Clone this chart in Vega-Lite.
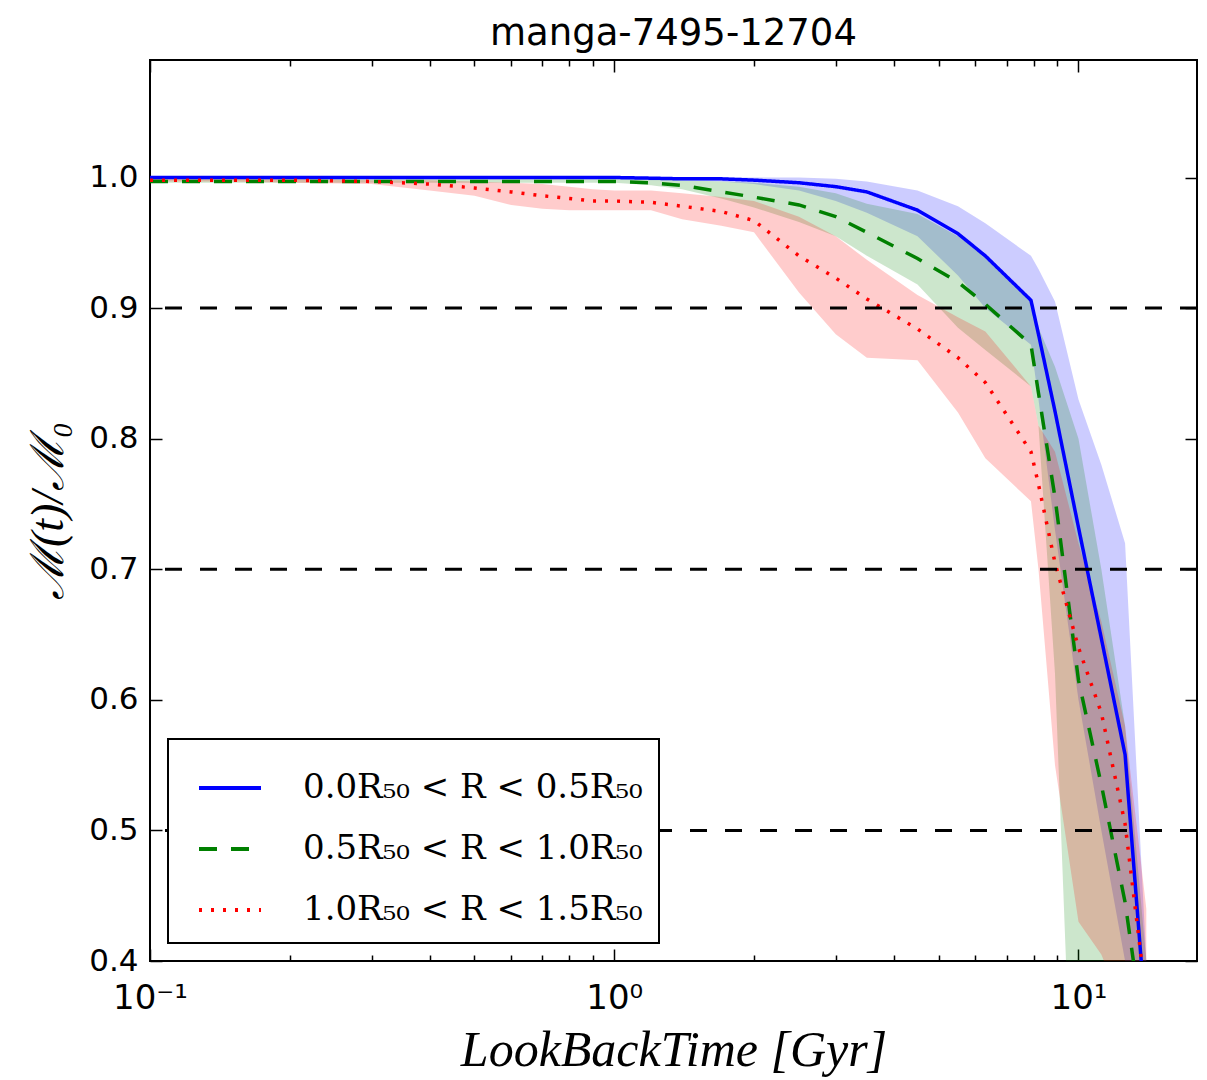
{
  "$schema": "https://vega.github.io/schema/vega-lite/v6.json",
  "width": 1047,
  "height": 901,
  "autosize": {"type": "none"},
  "padding": {"left": 150, "top": 60, "right": 10, "bottom": 119},
  "title": {"text": "manga-7495-12704", "font": "DejaVu Sans", "fontSize": 37, "fontWeight": "normal", "color": "black", "offset": 6},
  "config": {
    "view": {"stroke": "black", "strokeWidth": 2},
    "axis": {"domain": false, "grid": false, "tickColor": "black", "tickWidth": 1.5, "labelColor": "black", "titleColor": "black", "labelFont": "DejaVu Sans", "titleFontWeight": "normal"},
    "legend": {
      "orient": "bottom-left",
      "offset": 18,
      "fillColor": "white",
      "strokeColor": "black",
      "strokeWidth": 2,
      "padding": 16,
      "cornerRadius": 0,
      "symbolType": "stroke",
      "symbolSize": 3844,
      "symbolStrokeWidth": 4,
      "symbolOffset": 13,
      "labelFont": "DejaVu Serif",
      "labelFontSize": 34,
      "labelColor": "black",
      "labelOffset": 40,
      "labelLimit": 700,
      "rowPadding": 11
    }
  },
  "datasets": {
    "curves": [
      {"t":0.1,"r":"a","m":1,"lo":0.999,"hi":1},
      {"t":0.15,"r":"a","m":1,"lo":0.999,"hi":1},
      {"t":0.2,"r":"a","m":1,"lo":0.999,"hi":1},
      {"t":0.3,"r":"a","m":1,"lo":0.999,"hi":1},
      {"t":0.4,"r":"a","m":1,"lo":0.999,"hi":1},
      {"t":0.5,"r":"a","m":1,"lo":0.999,"hi":1},
      {"t":0.6,"r":"a","m":1,"lo":0.999,"hi":1},
      {"t":0.7,"r":"a","m":1,"lo":0.999,"hi":1},
      {"t":0.8,"r":"a","m":1,"lo":0.999,"hi":1},
      {"t":0.9,"r":"a","m":1,"lo":0.999,"hi":1},
      {"t":1.0,"r":"a","m":1,"lo":0.999,"hi":1},
      {"t":1.2,"r":"a","m":0.9995,"lo":0.998,"hi":1},
      {"t":1.4,"r":"a","m":0.999,"lo":0.998,"hi":1},
      {"t":1.7,"r":"a","m":0.999,"lo":0.997,"hi":1},
      {"t":2.0,"r":"a","m":0.998,"lo":0.995,"hi":1},
      {"t":2.5,"r":"a","m":0.996,"lo":0.99,"hi":1},
      {"t":3.0,"r":"a","m":0.993,"lo":0.982,"hi":0.999},
      {"t":3.5,"r":"a","m":0.989,"lo":0.973,"hi":0.997},
      {"t":4.5,"r":"a","m":0.975,"lo":0.955,"hi":0.99},
      {"t":5.5,"r":"a","m":0.957,"lo":0.925,"hi":0.978},
      {"t":6.3,"r":"a","m":0.94,"lo":0.9,"hi":0.965},
      {"t":7.9,"r":"a","m":0.906,"lo":0.872,"hi":0.94},
      {"t":8.2,"r":"a","m":0.88,"lo":0.83,"hi":0.93},
      {"t":8.9,"r":"a","m":0.821,"lo":0.73,"hi":0.905},
      {"t":10,"r":"a","m":0.732,"lo":0.6,"hi":0.83},
      {"t":11.2,"r":"a","m":0.647,"lo":0.5,"hi":0.78},
      {"t":12.6,"r":"a","m":0.558,"lo":0.4,"hi":0.72},
      {"t":14,"r":"a","m":0.35,"lo":0.3,"hi":0.4},
      {"t":0.1,"r":"b","m":0.997,"lo":0.996,"hi":0.999},
      {"t":0.15,"r":"b","m":0.997,"lo":0.996,"hi":0.999},
      {"t":0.2,"r":"b","m":0.997,"lo":0.996,"hi":0.999},
      {"t":0.3,"r":"b","m":0.997,"lo":0.996,"hi":0.999},
      {"t":0.4,"r":"b","m":0.997,"lo":0.996,"hi":0.999},
      {"t":0.5,"r":"b","m":0.997,"lo":0.996,"hi":0.999},
      {"t":0.6,"r":"b","m":0.997,"lo":0.996,"hi":0.999},
      {"t":0.7,"r":"b","m":0.997,"lo":0.996,"hi":0.999},
      {"t":0.8,"r":"b","m":0.997,"lo":0.996,"hi":0.999},
      {"t":0.9,"r":"b","m":0.997,"lo":0.996,"hi":0.999},
      {"t":1.0,"r":"b","m":0.997,"lo":0.996,"hi":0.999},
      {"t":1.2,"r":"b","m":0.996,"lo":0.994,"hi":0.999},
      {"t":1.4,"r":"b","m":0.994,"lo":0.991,"hi":0.998},
      {"t":1.7,"r":"b","m":0.989,"lo":0.984,"hi":0.997},
      {"t":2.0,"r":"b","m":0.985,"lo":0.977,"hi":0.996},
      {"t":2.5,"r":"b","m":0.979,"lo":0.966,"hi":0.993},
      {"t":3.0,"r":"b","m":0.97,"lo":0.955,"hi":0.988},
      {"t":3.5,"r":"b","m":0.958,"lo":0.94,"hi":0.98},
      {"t":4.5,"r":"b","m":0.938,"lo":0.918,"hi":0.972},
      {"t":5.5,"r":"b","m":0.92,"lo":0.885,"hi":0.955},
      {"t":6.3,"r":"b","m":0.903,"lo":0.868,"hi":0.94},
      {"t":7.9,"r":"b","m":0.872,"lo":0.84,"hi":0.905},
      {"t":8.2,"r":"b","m":0.835,"lo":0.81,"hi":0.885},
      {"t":8.9,"r":"b","m":0.755,"lo":0.62,"hi":0.855},
      {"t":10,"r":"b","m":0.615,"lo":0.15,"hi":0.8},
      {"t":11.2,"r":"b","m":0.535,"lo":0.05,"hi":0.7},
      {"t":12.6,"r":"b","m":0.445,"lo":0.0,"hi":0.58},
      {"t":14,"r":"b","m":0.33,"lo":0.0,"hi":0.4},
      {"t":0.1,"r":"c","m":0.998,"lo":0.997,"hi":0.999},
      {"t":0.15,"r":"c","m":0.998,"lo":0.997,"hi":0.999},
      {"t":0.2,"r":"c","m":0.998,"lo":0.996,"hi":0.999},
      {"t":0.3,"r":"c","m":0.997,"lo":0.995,"hi":0.998},
      {"t":0.4,"r":"c","m":0.995,"lo":0.99,"hi":0.998},
      {"t":0.5,"r":"c","m":0.992,"lo":0.986,"hi":0.997},
      {"t":0.6,"r":"c","m":0.989,"lo":0.979,"hi":0.996},
      {"t":0.7,"r":"c","m":0.986,"lo":0.976,"hi":0.995},
      {"t":0.8,"r":"c","m":0.984,"lo":0.975,"hi":0.993},
      {"t":0.9,"r":"c","m":0.982,"lo":0.975,"hi":0.991},
      {"t":1.0,"r":"c","m":0.982,"lo":0.975,"hi":0.99},
      {"t":1.2,"r":"c","m":0.981,"lo":0.975,"hi":0.99},
      {"t":1.4,"r":"c","m":0.978,"lo":0.968,"hi":0.988},
      {"t":1.7,"r":"c","m":0.974,"lo":0.963,"hi":0.985},
      {"t":2.0,"r":"c","m":0.967,"lo":0.958,"hi":0.982},
      {"t":2.5,"r":"c","m":0.94,"lo":0.912,"hi":0.97},
      {"t":3.0,"r":"c","m":0.923,"lo":0.88,"hi":0.955},
      {"t":3.5,"r":"c","m":0.907,"lo":0.862,"hi":0.937},
      {"t":4.5,"r":"c","m":0.884,"lo":0.86,"hi":0.91},
      {"t":5.5,"r":"c","m":0.862,"lo":0.82,"hi":0.893},
      {"t":6.3,"r":"c","m":0.843,"lo":0.785,"hi":0.882},
      {"t":7.9,"r":"c","m":0.79,"lo":0.752,"hi":0.84},
      {"t":8.2,"r":"c","m":0.765,"lo":0.7,"hi":0.81},
      {"t":8.9,"r":"c","m":0.705,"lo":0.55,"hi":0.79},
      {"t":10,"r":"c","m":0.64,"lo":0.43,"hi":0.72},
      {"t":11.2,"r":"c","m":0.59,"lo":0.405,"hi":0.66},
      {"t":12.6,"r":"c","m":0.505,"lo":0.36,"hi":0.58},
      {"t":14,"r":"c","m":0.37,"lo":0.3,"hi":0.44}
    ],
    "levels": [{"y": 0.9}, {"y": 0.7}, {"y": 0.5}]
  },
  "layer": [
    {
      "data": {"name": "curves"},
      "transform": [{"filter": "datum.r == 'a'"}],
      "mark": {"type": "area", "fill": "#0000ff", "fillOpacity": 0.2, "clip": true},
      "encoding": {
        "x": {
          "field": "t", "type": "quantitative",
          "scale": {"type": "log", "domain": [0.1, 18], "nice": false},
          "axis": {
            "orient": "bottom",
            "values": [0.1,0.2,0.3,0.4,0.5,0.6,0.7,0.8,0.9,1,2,3,4,5,6,7,8,9,10],
            "labelExpr": "datum.value == 0.1 ? '10⁻¹' : datum.value == 1 ? '10⁰' : datum.value == 10 ? '10¹' : ''",
            "tickSize": {"condition": {"test": "datum.value == 0.1 || datum.value == 1 || datum.value == 10", "value": -12}, "value": -6},
            "labelPadding": 32,
            "labelFontSize": 34,
            "labelFlush": false,
            "labelOverlap": false,
            "title": "LookBackTime [Gyr]",
            "titleFont": "Liberation Serif",
            "titleFontStyle": "italic",
            "titleFontSize": 50,
            "titlePadding": 4
          }
        },
        "y": {
          "field": "lo", "type": "quantitative",
          "scale": {"domain": [0.4, 1.09], "nice": false, "zero": false},
          "axis": {
            "orient": "left",
            "values": [0.4,0.5,0.6,0.7,0.8,0.9,1.0],
            "format": ".1f",
            "tickSize": -12,
            "labelPadding": 24,
            "labelFontSize": 31,
            "title": "ℳ(t)/ℳ₀",
            "titleFont": "Liberation Serif",
            "titleFontStyle": "italic",
            "titleFontSize": 46,
            "titlePadding": 16
          }
        },
        "y2": {"field": "hi"}
      }
    },
    {
      "data": {"name": "curves"},
      "transform": [{"filter": "datum.r == 'b'"}],
      "mark": {"type": "area", "fill": "#008000", "fillOpacity": 0.2, "clip": true},
      "encoding": {
        "x": {"field": "t", "type": "quantitative", "scale": {"type": "log", "domain": [0.1, 18], "nice": false}, "axis": null},
        "y": {"field": "lo", "type": "quantitative", "scale": {"domain": [0.4, 1.09], "nice": false, "zero": false}, "axis": null},
        "y2": {"field": "hi"}
      }
    },
    {
      "data": {"name": "curves"},
      "transform": [{"filter": "datum.r == 'c'"}],
      "mark": {"type": "area", "fill": "#ff0000", "fillOpacity": 0.2, "clip": true},
      "encoding": {
        "x": {"field": "t", "type": "quantitative", "scale": {"type": "log", "domain": [0.1, 18], "nice": false}, "axis": null},
        "y": {"field": "lo", "type": "quantitative", "scale": {"domain": [0.4, 1.09], "nice": false, "zero": false}, "axis": null},
        "y2": {"field": "hi"}
      }
    },
    {
      "data": {"name": "curves"},
      "mark": {"type": "line", "strokeWidth": 3.5, "clip": true},
      "encoding": {
        "x": {
          "field": "t", "type": "quantitative",
          "scale": {"type": "log", "domain": [0.1, 18], "nice": false},
          "axis": {
            "orient": "top",
            "values": [0.1,0.2,0.3,0.4,0.5,0.6,0.7,0.8,0.9,1,2,3,4,5,6,7,8,9,10],
            "labels": false,
            "title": null,
            "tickSize": {"condition": {"test": "datum.value == 0.1 || datum.value == 1 || datum.value == 10", "value": -12}, "value": -6}
          }
        },
        "y": {
          "field": "m", "type": "quantitative",
          "scale": {"domain": [0.4, 1.09], "nice": false, "zero": false},
          "axis": {
            "orient": "right",
            "values": [0.4,0.5,0.6,0.7,0.8,0.9,1.0],
            "labels": false,
            "title": null,
            "tickSize": -12
          }
        },
        "color": {
          "field": "r", "type": "nominal",
          "scale": {"domain": ["a","b","c"], "range": ["#0000ff","#008000","#ff0000"]},
          "legend": {
            "title": null,
            "labelExpr": "datum.label == 'a' ? '0.0R₅₀ < R < 0.5R₅₀' : datum.label == 'b' ? '0.5R₅₀ < R < 1.0R₅₀' : '1.0R₅₀ < R < 1.5R₅₀'"
          }
        },
        "strokeDash": {
          "field": "r", "type": "nominal",
          "scale": {"domain": ["a","b","c"], "range": [[1,0],[18,14],[3,9]]},
          "legend": {
            "title": null,
            "labelExpr": "datum.label == 'a' ? '0.0R₅₀ < R < 0.5R₅₀' : datum.label == 'b' ? '0.5R₅₀ < R < 1.0R₅₀' : '1.0R₅₀ < R < 1.5R₅₀'"
          }
        }
      }
    },
    {
      "data": {"name": "levels"},
      "mark": {"type": "rule", "color": "black", "strokeWidth": 3, "strokeDash": [17, 18]},
      "encoding": {
        "y": {
          "field": "y", "type": "quantitative",
          "scale": {"domain": [0.4, 1.09], "nice": false, "zero": false},
          "axis": null
        }
      }
    }
  ],
  "resolve": {"axis": {"x": "independent", "y": "independent"}}
}
